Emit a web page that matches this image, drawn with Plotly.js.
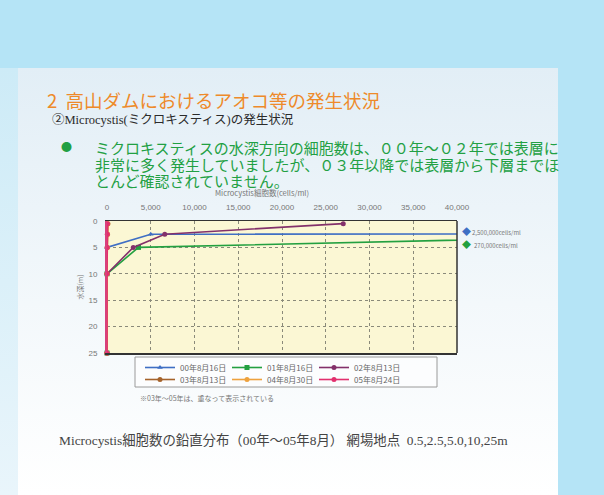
<!DOCTYPE html>
<html>
<head>
<meta charset="utf-8">
<script src="https://cdn.plot.ly/plotly-3.0.1.min.js"></script>
<style>
  html, body { margin:0; padding:0; }
  #wrap { position:relative; width:604px; height:495px; background:#b5e4f6; overflow:hidden; }
  #panel { position:absolute; left:18px; top:68px; width:540px; height:427px;
           background:linear-gradient(#e2eef6 0%, #f3f8fb 55%, #ffffff 100%); }
  #leftstrip { position:absolute; left:0; top:68px; width:18px; height:427px;
           background:linear-gradient(#cdebf7, #e9f5fb); }
  #chart { position:absolute; left:0; top:0; width:604px; height:495px; }
</style>
</head>
<body>
<div id="wrap">
  <div id="leftstrip"></div>
  <div id="panel"></div>
  <div id="chart"></div>
</div>
<script>
// ---- data ----
const depths = [0.5, 2.5, 5.0, 10, 25];
const seriesNames = ["00年8月16日", "01年8月16日", "02年8月13日", "03年8月13日", "04年8月30日", "05年8月24日"];
const s00 = [2500000, 5000, 0, 0, 0];
const s01 = [270000, 70000, 3600, 0, 0];
const s02 = [27000, 6600, 3000, 0, 0];
const s03 = [100, 60, 30, 10, 0];
const s04 = [80, 40, 20, 10, 0];
const s05 = [60, 40, 20, 0, 0];
const xTicks = [0, 5000, 10000, 15000, 20000, 25000, 30000, 35000, 40000];
const yTicks = [0, 5, 10, 15, 20, 25];
const bulletLines = [
  "ミクロキスティスの水深方向の細胞数は、００年～０２年では表層に",
  "非常に多く発生していましたが、０３年以降では表層から下層までほ",
  "とんど確認されていません。"
];

// ---- styling ----
const colors = ["#3f6fc4", "#23a040", "#83306a", "#a5632b", "#eea23e", "#e2306e"];
const symbols = ["triangle-up", "square", "circle", "circle", "circle", "circle"];
const seriesVals = [s00, s01, s02, s03, s04, s05];

const L = 107, R = 457, T = 221, B = 353;
const px = p => (p - L) / (R - L);
const py = p => (B - p) / (B - T);
const JP = "Noto Sans CJK JP, sans-serif";

const traces = seriesVals.map((vals, i) => ({
  type: "scatter", mode: "lines+markers",
  x: vals, y: depths, name: seriesNames[i],
  legend: i < 3 ? "legend" : "legend2",
  line: {color: colors[i], width: 1.6},
  marker: {color: colors[i], size: 5, symbol: symbols[i]},
  cliponaxis: false
}));

function ann(text, x, y, size, color, opts) {
  return Object.assign({
    text: text, xref: "paper", yref: "paper", x: px(x), y: py(y),
    xanchor: "left", yanchor: "middle", showarrow: false,
    font: {size: size, color: color, family: JP}
  }, opts || {});
}

const bulletText = bulletLines.map(t => '<span style="font-size:15px">' + t + '</span>').join("<br>");

const annotations = [
  ann("2  高山ダムにおけるアオコ等の発生状況", 45, 100, 18.5, "#ee8a2a"),
  ann("②Microcystis(ミクロキスティス)の発生状況", 50, 119, 12.5, "#2b2b2b",
      {font: {size: 12.5, color: "#2b2b2b", family: "Liberation Serif, Noto Sans CJK JP"}}),
  ann("●", 59, 146, 11, "#22a043"),
  ann(bulletText, 94, 136, 12.8, "#22a043", {yanchor: "top", align: "left", borderpad: 0}),
  ann("Microcystis細胞数(cells/ml)", 262, 192, 7.5, "#777", {xanchor: "center", borderpad: 0}),
  ann("※03年～05年は、重なって表示されている", 138, 398, 7, "#777"),
  ann("Microcystis細胞数の鉛直分布（00年～05年8月） 網場地点  0.5,2.5,5.0,10,25m", 57, 440, 13.4, "#444",
      {font: {size: 13.4, color: "#444", family: "Liberation Serif, Noto Sans CJK JP"}}),
  ann("◆", 460, 231, 9, colors[0]),
  ann("2,500,000cells/ml", 470, 232, 6, "#777"),
  ann("◆", 460, 244, 9, colors[1]),
  ann("270,000cells/ml", 472, 245, 6, "#777")
];

const layout = {
  width: 604, height: 495,
  margin: {l: L, r: 604 - R, t: T, b: 495 - B, pad: 0},
  paper_bgcolor: "rgba(0,0,0,0)",
  plot_bgcolor: "#fbf7d4",
  showlegend: true,
  xaxis: {
    side: "top", range: [0, 40000], tickvals: xTicks, tickformat: ",",
    tickfont: {size: 8, color: "#777", family: "Liberation Sans"},
    showgrid: true, gridcolor: "#8a8a7a", griddash: "dot", gridwidth: 1,
    zeroline: false, showline: true, mirror: true, linecolor: "#333", linewidth: 1.5,
    ticklabelstandoff: 6
  },
  yaxis: {
    range: [25, 0], tickvals: yTicks,
    tickfont: {size: 8, color: "#777", family: "Liberation Sans"},
    showgrid: true, gridcolor: "#8a8a7a", griddash: "dot", gridwidth: 1,
    zeroline: false, showline: true, mirror: false, linecolor: "#d8407c", linewidth: 2,
    ticklabelstandoff: 6,
    title: {text: "水深(m)", font: {size: 7, color: "#777", family: JP}, standoff: 4}
  },
  legend: {
    orientation: "h", x: px(140), y: py(353), xanchor: "left", yanchor: "top",
    entrywidth: 42, entrywidthmode: "pixels", itemwidth: 30,
    font: {size: 8, color: "#666", family: JP}, bgcolor: "rgba(0,0,0,0)"
  },
  legend2: {
    orientation: "h", x: px(140), y: py(365), xanchor: "left", yanchor: "top",
    entrywidth: 42, entrywidthmode: "pixels", itemwidth: 30,
    font: {size: 8, color: "#666", family: JP}, bgcolor: "rgba(0,0,0,0)"
  },
  shapes: [
    {type: "rect", xref: "paper", yref: "paper", x0: px(135), x1: px(437), y0: py(357), y1: py(387),
     line: {color: "#9a9a9a", width: 1}, fillcolor: "rgba(255,255,255,0.6)", layer: "below"},
    {type: "line", xref: "paper", yref: "paper", x0: 1, x1: 1, y0: 0, y1: 1,
     line: {color: "#333", width: 1.5}}
  ],
  annotations: annotations
};

Plotly.newPlot("chart", traces, layout, {displayModeBar: false, staticPlot: true});
</script>
</body>
</html>
